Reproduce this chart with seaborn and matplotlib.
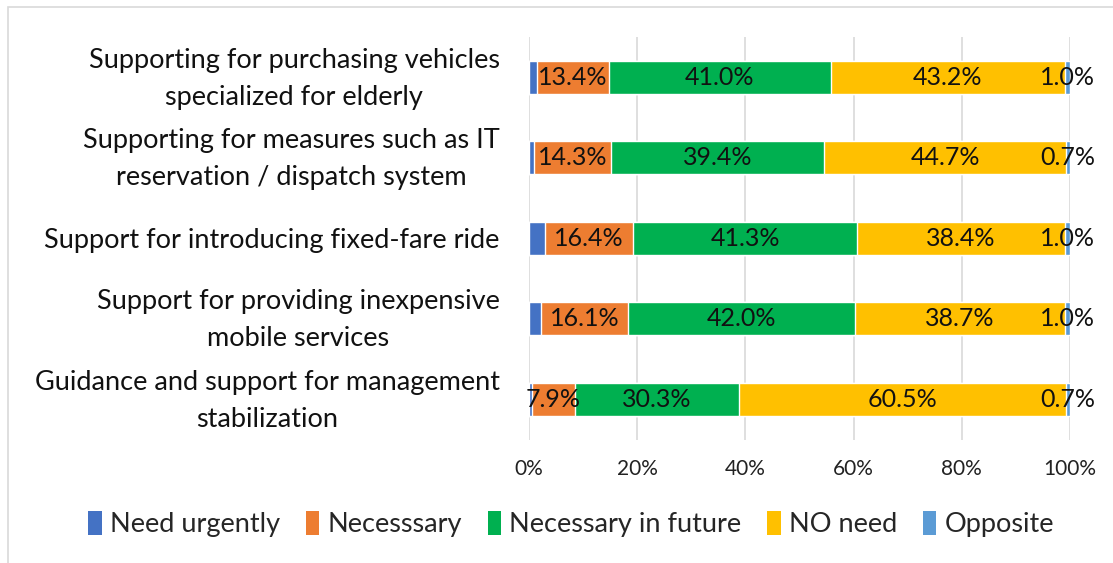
import numpy as np
import pandas as pd
import matplotlib
matplotlib.use("Agg")
import matplotlib.pyplot as plt
from matplotlib.patches import Rectangle, Patch
from matplotlib.transforms import ScaledTranslation
import seaborn as sns

# Survey responses per support measure (percent of respondents)
categories = [
    "Supporting for purchasing vehicles\nspecialized for elderly",
    "Supporting for measures such as IT\nreservation / dispatch system",
    "Support for introducing fixed-fare ride",
    "Support for providing inexpensive\nmobile services",
    "Guidance and support for management\nstabilization",
]
series_names = ["Need urgently", "Necesssary", "Necessary in future", "NO need", "Opposite"]
need_urgently = [1.4, 0.9, 2.9, 2.2, 0.6]
necessary = [13.4, 14.3, 16.4, 16.1, 7.9]
necessary_future = [41.0, 39.4, 41.3, 42.0, 30.3]
no_need = [43.2, 44.7, 38.4, 38.7, 60.5]
opposite = [1.0, 0.7, 1.0, 1.0, 0.7]
labelled = [False, True, True, True, True]
colors = ["#4472C4", "#ED7D31", "#00B050", "#FFC000", "#5B9BD5"]
x_ticks = [0, 20, 40, 60, 80, 100]

values = np.array([need_urgently, necessary, necessary_future, no_need, opposite])
cum = np.cumsum(values, axis=0)

sns.set_theme(style="white")
plt.rcParams["font.family"] = ["Lato", "DejaVu Sans"]

fig = plt.figure(figsize=(11.13, 5.63), dpi=100)
ax = fig.add_axes([529 / 1113, 1 - 439.5 / 563, 541 / 1113, 402.5 / 563])

# Stacked bars: draw cumulative totals from the right-most series back to the first
for i in range(len(series_names) - 1, -1, -1):
    df = pd.DataFrame({"category": categories, "total": cum[i]})
    sns.barplot(data=df, y="category", x="total", orient="h", color=colors[i],
                saturation=1, width=0.41, ax=ax, zorder=2)

# Value labels centred on each segment
for i in range(len(series_names)):
    if not labelled[i]:
        continue
    for j in range(len(categories)):
        v = values[i, j]
        ax.text(cum[i, j] - v / 2, j, f"{v:.1f}%", ha="center", va="center",
                fontsize=18, color="#111111", zorder=5)

ax.set_xlim(0, 100)
ax.set_ylim(len(categories) - 0.5, -0.5)
ax.set_xticks(x_ticks)
ax.set_xticklabels([f"{t}%" for t in x_ticks], fontsize=15, color="#222222")
ax.tick_params(axis="x", length=0, pad=14)
ax.tick_params(axis="y", length=0, pad=21)
lift = ScaledTranslation(0, 7 / 100, fig.dpi_scale_trans)
for lbl in ax.get_yticklabels():
    lbl.set_fontsize(19.5)
    lbl.set_color("#111111")
    lbl.set_multialignment("center")
    lbl.set_linespacing(1.6)
    if "\n" in lbl.get_text():
        lbl.set_transform(lbl.get_transform() + lift)
ax.set_xlabel("")
ax.set_ylabel("")
ax.grid(axis="x", color="#D9D9D9", linewidth=1.2, zorder=0)
ax.set_axisbelow(True)
for s in ax.spines.values():
    s.set_visible(False)

handles = [Patch(facecolor=c, edgecolor="none") for c in colors]
fig.legend(handles, series_names, loc="center", bbox_to_anchor=(0.513, 0.069),
           ncol=5, frameon=False, fontsize=19.5, handlelength=0.5, handleheight=1.0,
           handletextpad=0.3, columnspacing=0.95)

# Thin chart-area border
fig.patches.append(Rectangle((7.5 / 1113, -0.05), 1.2, 1 - 7.5 / 563 + 0.05,
                             transform=fig.transFigure, fill=False,
                             edgecolor="#D9D9D9", linewidth=1.2, zorder=-1))

fig.savefig("out.png", dpi=100)
